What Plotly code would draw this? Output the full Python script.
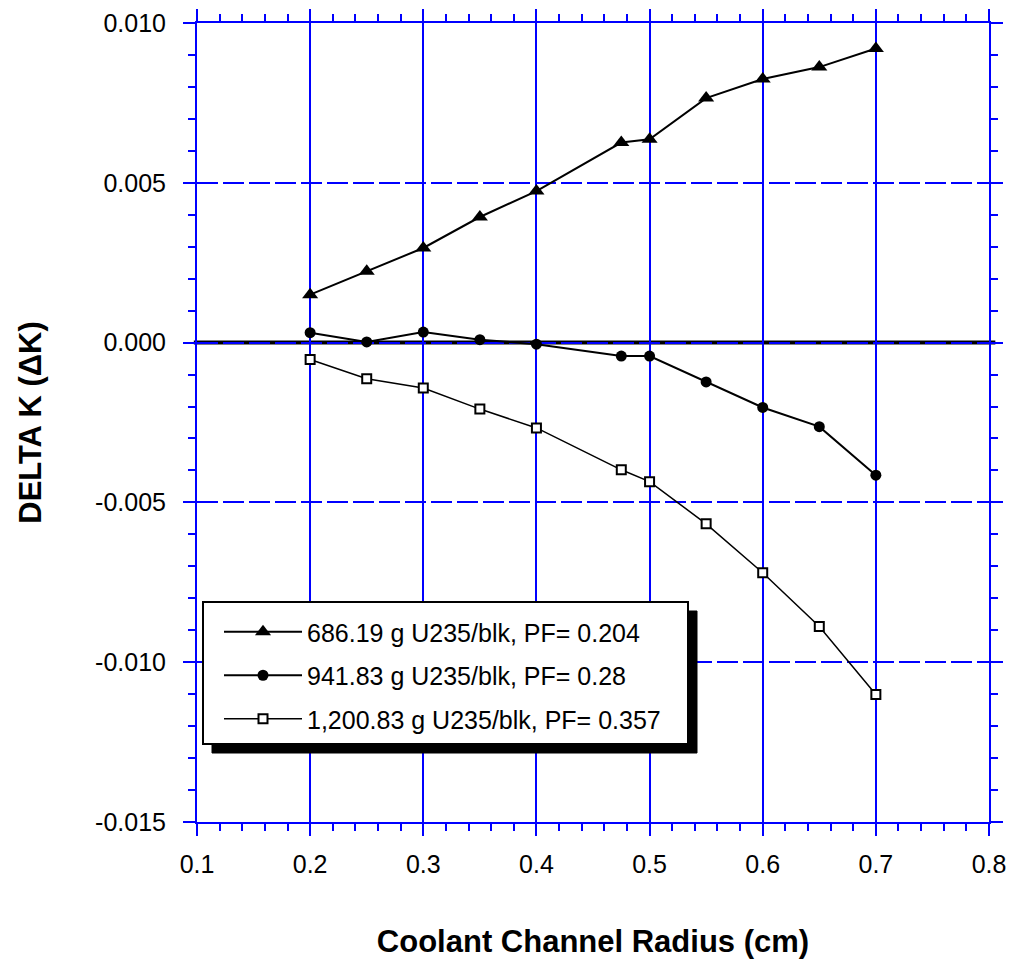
import plotly.graph_objects as go

# ---------------- data ----------------
radius = [0.2, 0.25, 0.3, 0.35, 0.4, 0.475, 0.5, 0.55, 0.6, 0.65, 0.7]
dk_686 = [0.00150, 0.00223, 0.00296, 0.00393, 0.00474, 0.00626, 0.00636, 0.00765, 0.00825, 0.00862, 0.00920]
dk_941 = [0.00031, 0.00002, 0.00033, 0.00009, -0.00005, -0.00042, -0.00042, -0.00123, -0.00203, -0.00263, -0.00415]
dk_1200 = [-0.00053, -0.00113, -0.00142, -0.00208, -0.00267, -0.00398, -0.00435, -0.00567, -0.00720, -0.00888, -0.01101]

names = ["686.19 g U235/blk, PF= 0.204",
         "941.83 g U235/blk, PF= 0.28",
         "1,200.83 g U235/blk, PF= 0.357"]

x_ticks = [0.1, 0.2, 0.3, 0.4, 0.5, 0.6, 0.7, 0.8]
x_ticktext = ["0.1", "0.2", "0.3", "0.4", "0.5", "0.6", "0.7", "0.8"]
y_ticks = [-0.015, -0.010, -0.005, 0.0, 0.005, 0.010]
y_ticktext = ["-0.015", "-0.010", "-0.005", "0.000", "0.005", "0.010"]

BLUE = "#0000FF"
FONT = "Liberation Sans, Arial, Helvetica, sans-serif"
OFF = 8  # page body margin
W, H = 1016 - 2 * OFF, 959 - OFF
# plot area in page pixels: left 197, top 23, width 792, height 799
ML, MT, PW, PH = 197 - OFF, 23 - OFF, 792, 799
MR, MB = W - ML - PW, H - MT - PH


def px_x(p):
    return (p - OFF - ML) / PW


def px_y(p):
    return 1 - (p - OFF - MT) / PH


fig = go.Figure()
fig.add_trace(go.Scatter(
    x=radius, y=dk_686, name=names[0], mode="lines+markers", legendgroup="a",
    line=dict(color="black", width=2),
    marker=dict(symbol="triangle-up", size=14, color="black")))
fig.add_trace(go.Scatter(
    x=radius, y=dk_941, name=names[1], mode="lines+markers", legendgroup="b",
    line=dict(color="black", width=2),
    marker=dict(symbol="circle", size=11, color="black")))
fig.add_trace(go.Scatter(
    x=radius, y=dk_1200, name=names[2], mode="lines+markers", legendgroup="c",
    line=dict(color="black", width=1.5),
    marker=dict(symbol="square", size=9, color="white", line=dict(color="black", width=2))))

axis_common = dict(
    showline=True, linecolor=BLUE, linewidth=2,
    showgrid=True, gridcolor=BLUE, gridwidth=2,
    ticks="outside", ticklen=12, tickwidth=2, tickcolor=BLUE,
    mirror="allticks", zeroline=False,
    tickfont=dict(family=FONT, size=25, color="black"),
)

fig.update_xaxes(
    **axis_common,
    range=[0.1, 0.8], tickvals=x_ticks, ticktext=x_ticktext,
    griddash="solid", ticklabelstandoff=7,
    minor=dict(dtick=0.02, tick0=0.1, ticklen=7, tickwidth=2, tickcolor=BLUE, ticks="outside", showgrid=False),
    title=dict(text="Coolant Channel Radius (cm)", standoff=55,
               font=dict(family=FONT, size=31, color="black", weight="bold")),
)
fig.update_yaxes(
    **axis_common,
    range=[-0.015, 0.010], tickvals=y_ticks, ticktext=y_ticktext,
    griddash="21px,5px", ticklabelstandoff=12,
    minor=dict(dtick=0.001, tick0=0.0, ticklen=7, tickwidth=2, tickcolor=BLUE, ticks="outside", showgrid=False),
    title=dict(text="DELTA K (ΔK)", standoff=44,
               font=dict(family=FONT, size=31, color="black", weight="bold")),
)

# legend box with drop shadow (drawn as shapes, legend itself transparent)
bx0, bx1, by0, by1 = 203, 688, 602, 744
sh = 9
shapes = [
    dict(type="line", xref="paper", yref="y", x0=-0.004, x1=1.008, y0=0, y1=0,
         line=dict(color="black", width=4), layer="between"),
    dict(type="rect", xref="paper", yref="paper",
         x0=px_x(bx0 + sh), x1=px_x(bx1 + sh), y0=px_y(by1 + sh), y1=px_y(by0 + sh),
         fillcolor="black", line=dict(color="black", width=1), layer="above"),
    dict(type="rect", xref="paper", yref="paper",
         x0=px_x(bx0), x1=px_x(bx1), y0=px_y(by1), y1=px_y(by0),
         fillcolor="white", line=dict(color="black", width=2), layer="above"),
]

fig.update_layout(
    width=W, height=H,
    margin=dict(l=ML, r=MR, t=MT, b=MB, autoexpand=False),
    paper_bgcolor="white", plot_bgcolor="white",
    shapes=shapes,
    showlegend=True,
    legend=dict(
        x=px_x(219), y=px_y(609), xanchor="left", yanchor="top",
        bgcolor="rgba(0,0,0,0)", borderwidth=0,
        font=dict(family=FONT, size=25, color="black"),
        traceorder="grouped", tracegroupgap=8, itemwidth=78,
    ),
)

fig.write_html("out.html")
